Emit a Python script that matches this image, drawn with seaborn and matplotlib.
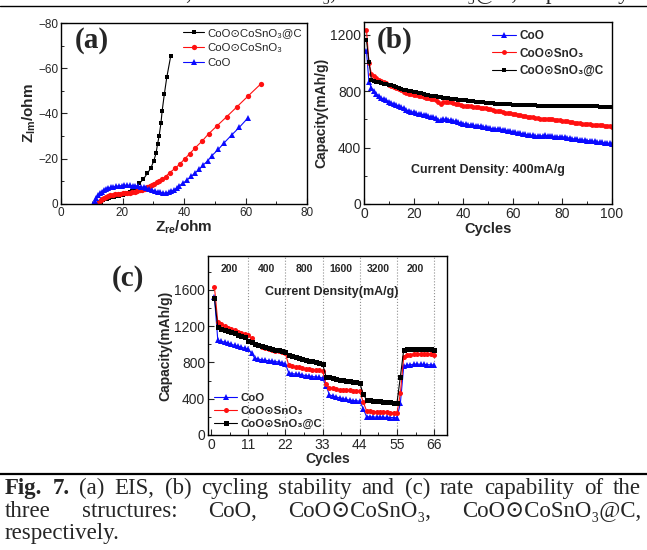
import matplotlib
matplotlib.use("Agg")
import matplotlib.pyplot as plt
from matplotlib.lines import Line2D
from matplotlib.ticker import MultipleLocator
import seaborn as sns

# ---- (a) EIS data (Z_re, Z_im) ----
ZRE_C = [12.0, 12.4, 12.9, 13.5, 14.1, 14.8, 15.5, 16.3, 17.1, 17.9, 18.7, 19.5, 20.3, 21.1,
         21.9, 22.5, 23.0, 24.1, 25.5, 26.8, 28.1, 29.2, 30.2, 30.9, 31.4, 31.9, 32.5, 32.9,
         33.6, 34.4, 35.7]
ZIM_C = [0, -0.6, -1.1, -1.6, -2.0, -2.4, -2.7, -3.0, -3.2, -3.4, -3.6, -3.8, -4.0, -4.3,
         -4.7, -5.2, -5.7, -7.2, -9.1, -11.0, -13.6, -15.8, -19.2, -22.4, -26.5, -30.0, -35.7,
         -41.2, -48.5, -56.0, -65.5]
ZRE_S = [12.0, 12.4, 12.9, 13.4, 14.0, 14.6, 15.3, 16.0, 16.8, 17.6, 18.4, 19.2, 20.0, 20.8,
         21.6, 22.4, 23.2, 24.0, 24.8, 25.6, 26.4, 27.2, 28.0, 28.8, 29.6, 30.4, 31.2, 32.0,
         33.0, 34.0, 35.4, 37.1, 38.6, 40.2, 41.9, 43.7, 45.8, 48.0, 50.7, 53.9, 57.1, 60.9, 65.0]
ZIM_S = [0, -0.9, -1.6, -2.2, -2.7, -3.1, -3.5, -3.8, -4.1, -4.3, -4.5, -4.6, -4.7, -4.8,
         -4.9, -5.0, -5.2, -5.4, -5.7, -6.0, -6.4, -6.8, -7.3, -7.8, -8.4, -9.0, -9.6, -10.2,
         -11.0, -12.1, -13.9, -15.8, -17.6, -19.9, -22.3, -24.9, -27.7, -31.0, -34.5, -38.6,
         -42.8, -47.8, -53.1]
ZRE_O = [10.5, 11.0, 11.5, 12.0, 12.6, 13.2, 13.9, 14.6, 15.4, 16.2, 17.0, 17.9, 18.8, 19.7,
         20.6, 21.5, 22.4, 23.3, 24.2, 25.1, 26.0, 26.9, 27.8, 28.7, 29.6, 30.5, 31.4, 32.3,
         33.2, 34.1, 35.0, 35.9, 36.8, 37.7, 38.5, 39.8, 41.1, 42.3, 43.6, 45.0, 46.3, 47.8,
         49.1, 51.2, 53.1, 55.5, 58.0, 60.9]
ZIM_O = [0, -1.5, -2.8, -3.8, -4.7, -5.4, -6.0, -6.5, -6.9, -7.3, -7.6, -7.8, -8.0, -8.1,
         -8.2, -8.3, -8.2, -8.1, -8.0, -7.8, -7.6, -7.3, -7.0, -6.6, -6.2, -5.8, -5.4, -5.1,
         -4.9, -4.8, -5.1, -5.6, -6.3, -7.1, -8.1, -9.3, -10.7, -12.2, -13.7, -15.3, -17.3,
         -19.2, -21.4, -24.2, -27.1, -30.5, -33.9, -38.2]

# ---- (b) cycling at 400 mA/g, cycles 1..100 ----
CYC_B = list(range(1, 101))
CAP_B_COO = [1087, 862, 823, 800, 780, 765, 752, 742, 734, 726,
             718, 710, 703, 695, 688, 678, 668, 660, 655, 650,
             645, 640, 636, 632, 628, 624, 620, 616, 612, 598,
             592, 600, 602, 598, 594, 590, 586, 580, 574, 570,
             566, 562, 560, 557, 556, 556, 552, 548, 544, 540,
             536, 534, 533, 531, 530, 528, 524, 520, 516, 513,
             510, 506, 502, 497, 493, 490, 488, 486, 484, 482,
             482, 484, 486, 485, 482, 480, 478, 477, 476, 475,
             474, 470, 466, 463, 460, 458, 456, 454, 452, 450,
             448, 446, 443, 440, 438, 436, 434, 432, 429, 426]
CAP_B_SNO = [1236, 1000, 924, 905, 892, 882, 873, 865, 855, 846,
             838, 830, 822, 814, 806, 795, 786, 780, 777, 774,
             770, 766, 762, 758, 754, 750, 746, 742, 738, 720,
             706, 722, 726, 724, 720, 716, 712, 708, 704, 698,
             696, 694, 692, 690, 688, 686, 683, 680, 677, 674,
             670, 666, 662, 659, 656, 652, 648, 645, 642, 638,
             635, 632, 630, 627, 624, 620, 617, 614, 611, 608,
             606, 604, 603, 604, 605, 602, 598, 595, 592, 590,
             588, 585, 582, 579, 576, 574, 572, 570, 568, 567,
             565, 563, 561, 559, 558, 557, 556, 554, 552, 549]
CAP_B_C = [1160, 1010, 880, 872, 866, 862, 858, 854, 850, 846,
           840, 834, 828, 822, 816, 810, 806, 802, 799, 796,
           792, 788, 784, 780, 776, 772, 768, 765, 762, 759,
           756, 753, 750, 748, 746, 744, 742, 740, 738, 736,
           734, 732, 730, 728, 726, 724, 722, 720, 718, 716,
           714, 713, 712, 711, 710, 709, 708, 707, 706, 705,
           704, 703, 702, 702, 701, 700, 700, 699, 699, 698,
           698, 697, 697, 697, 696, 696, 696, 695, 695, 695,
           695, 694, 694, 694, 694, 693, 693, 693, 693, 692,
           692, 692, 692, 692, 691, 691, 691, 691, 691, 691]

# ---- (c) rate capability, cycles 1..66 ----
CYC_C = list(range(1, 67))
CAP_C_COO = [1524, 1045, 1035, 1025, 1015, 1000, 990, 978, 968, 958, 945,
             900, 845, 838, 830, 825, 820, 815, 810, 805, 798, 785,
             685, 678, 672, 668, 662, 656, 650, 645, 640, 635, 630,
             545, 445, 430, 420, 410, 400, 392, 385, 380, 378, 372,
             292, 202, 200, 198, 197, 196, 195, 194, 193, 192, 190,
             350, 756, 770, 775, 780, 782, 780, 778, 776, 774, 772]
CAP_C_SNO = [1635, 1245, 1225, 1205, 1185, 1170, 1155, 1140, 1128, 1115, 1105,
             1065, 1005, 990, 975, 962, 950, 940, 932, 925, 918, 900,
             768, 760, 752, 745, 738, 732, 727, 722, 718, 714, 710,
             560, 522, 515, 508, 502, 498, 495, 492, 490, 490, 480,
             365, 268, 262, 258, 256, 254, 252, 250, 248, 246, 244,
             458, 862, 880, 888, 892, 895, 896, 895, 893, 890, 886]
CAP_C_C = [1510, 1188, 1170, 1160, 1148, 1135, 1120, 1108, 1095, 1080, 1035,
           1025, 1005, 990, 978, 968, 958, 950, 942, 935, 928, 920,
           885, 875, 862, 850, 840, 830, 820, 812, 805, 798, 785,
           645, 636, 628, 620, 612, 605, 598, 592, 586, 580, 575,
           450, 390, 385, 380, 376, 372, 368, 364, 360, 356, 352,
           642, 940, 945, 947, 948, 950, 952, 950, 948, 944, 938]
RATE_LABELS = ["200", "400", "800", "1600", "3200", "200"]
SEG = 11

W, H = 647, 550
sns.set_style("ticks")
plt.rcParams["font.family"] = ["Liberation Sans", "DejaVu Sans"]
plt.rcParams["mathtext.fontset"] = "custom"
plt.rcParams["mathtext.rm"] = "Liberation Sans"
plt.rcParams["mathtext.bf"] = "Liberation Sans:bold"
plt.rcParams["xtick.direction"] = "in"
plt.rcParams["ytick.direction"] = "in"

fig = plt.figure(figsize=(W / 100, H / 100), dpi=100)


def box(l, t, r, b):
    return [l / W, 1 - b / H, (r - l) / W, (b - t) / H]


def fx(px):
    return px / W


def fy(py):
    return 1 - py / H


BLUE, RED, BLACK = "#0a0aff", "#ff1010", "#000000"
sub3 = "\u2083"
dot = "\u2299"


def style_ticks(ax, size):
    ax.tick_params(which="major", length=4, width=0.8, labelsize=size, pad=2)
    ax.tick_params(which="minor", length=2, width=0.7)
    ax.tick_params(top=False, right=False, which="both")
    for s in ax.spines.values():
        s.set_linewidth(1.0)
        s.set_color("black")


def series(ax, x, y, color, marker, ms, label):
    sns.lineplot(x=x, y=y, ax=ax, color=color, marker=marker, markersize=ms,
                 markeredgewidth=0, linewidth=0.8, sort=False, estimator=None,
                 label=label)


# ---------------- (a) ----------------
axa = fig.add_axes(box(61, 23, 307, 204))
series(axa, ZRE_C, ZIM_C, BLACK, "s", 3.5, "CoO" + dot + "CoSnO" + sub3 + "@C")
series(axa, ZRE_S, ZIM_S, RED, "o", 3.8, "CoO" + dot + "CoSnO" + sub3)
series(axa, ZRE_O, ZIM_O, BLUE, "^", 4.5, "CoO")
axa.set_xlim(0, 80)
axa.set_ylim(0, -80)
axa.xaxis.set_major_locator(MultipleLocator(20))
axa.xaxis.set_minor_locator(MultipleLocator(10))
axa.yaxis.set_major_locator(MultipleLocator(20))
axa.yaxis.set_minor_locator(MultipleLocator(10))
style_ticks(axa, 8.5)
axa.set_xlabel(r"$\mathbf{Z_{re}/ohm}$", fontsize=11, labelpad=0)
axa.set_ylabel(r"$\mathbf{Z_{Im}/ohm}$", fontsize=11, labelpad=0)
axa.legend(loc="upper right", frameon=False, fontsize=8.2, handlelength=1.8,
           handletextpad=0.3, labelspacing=0.45, borderaxespad=0.05)

# ---------------- (b) ----------------
axb = fig.add_axes(box(364, 22, 612, 204))
series(axb, CYC_B, CAP_B_COO, BLUE, "^", 4, "CoO")
series(axb, CYC_B, CAP_B_SNO, RED, "o", 3.5, "CoO" + dot + "SnO" + sub3)
series(axb, CYC_B, CAP_B_C, BLACK, "s", 3.2, "CoO" + dot + "SnO" + sub3 + "@C")
axb.set_xlim(0, 100)
axb.set_ylim(0, 1290)
axb.xaxis.set_major_locator(MultipleLocator(20))
axb.xaxis.set_minor_locator(MultipleLocator(10))
axb.yaxis.set_major_locator(MultipleLocator(400))
axb.yaxis.set_minor_locator(MultipleLocator(200))
style_ticks(axb, 10)
axb.set_xlabel("Cycles", fontsize=10.5, fontweight="bold", labelpad=1)
axb.set_ylabel("Capacity(mAh/g)", fontsize=10, fontweight="bold", labelpad=1)
axb.text(50, 240, "Current Density: 400mA/g", fontsize=9, fontweight="bold",
         ha="center", va="center")
axb.legend(loc="upper right", frameon=False, handlelength=2.0,
           handletextpad=0.3, labelspacing=0.45, borderaxespad=0.3,
           prop={"size": 8.5, "weight": "bold"})

# ---------------- (c) ----------------
axc = fig.add_axes(box(208, 256, 447, 435))
series(axc, CYC_C, CAP_C_COO, BLUE, "^", 4, "CoO")
series(axc, CYC_C, CAP_C_SNO, RED, "o", 3.6, "CoO" + dot + "SnO" + sub3)
series(axc, CYC_C, CAP_C_C, BLACK, "s", 3.6, "CoO" + dot + "SnO" + sub3 + "@C")
axc.set_xlim(-0.9, 69.8)
axc.set_ylim(0, 1975)
for i in range(1, len(RATE_LABELS) + 1):
    axc.axvline(i * SEG, color="#909090", ls=":", lw=0.8, zorder=0)
for i, lab in enumerate(RATE_LABELS):
    axc.text(i * SEG + SEG / 2, 1830, lab, fontsize=7.5, fontweight="bold",
             ha="center", va="center")
axc.text(35.7, 1580, "Current Density(mA/g)", fontsize=9, fontweight="bold",
         ha="center", va="center")
axc.xaxis.set_major_locator(MultipleLocator(SEG))
axc.xaxis.set_minor_locator(MultipleLocator(SEG / 2))
axc.yaxis.set_major_locator(MultipleLocator(400))
axc.yaxis.set_minor_locator(MultipleLocator(200))
style_ticks(axc, 10)
axc.set_xlabel("Cycles", fontsize=10, fontweight="bold", labelpad=0)
axc.set_ylabel("Capacity(mAh/g)", fontsize=10, fontweight="bold", labelpad=1)
axc.legend(loc="lower left", frameon=False, handlelength=2.0, handletextpad=0.3,
           labelspacing=0.25, borderaxespad=0.15, prop={"size": 8.2, "weight": "bold"})

# panel letters
serif = ["Liberation Serif", "DejaVu Serif"]
for txt, (px, py) in [("(a)", (92, 40)), ("(b)", (395, 40)), ("(c)", (128, 278))]:
    fig.text(fx(px), fy(py), txt, fontsize=21, fontweight="bold", family=serif,
             ha="center", va="center")

# ---------------- caption ----------------
renderer = fig.canvas.get_renderer()
CAP_FS = 16.5


def justify(words, base, x0, x1, fs=CAP_FS):
    arts = []
    for w, wt in words:
        arts.append(fig.text(0, fy(base), w, fontsize=fs, family=serif,
                             fontweight=wt, va="baseline", ha="left"))
    widths = [a.get_window_extent(renderer).width for a in arts]
    gap = max((x1 - x0 - sum(widths)) / max(len(arts) - 1, 1), 2)
    x = x0
    for a, w in zip(arts, widths):
        a.set_x(fx(x))
        x += w + gap


fig.add_artist(Line2D([0, 1], [fy(474), fy(474)], transform=fig.transFigure,
                      color="black", lw=1.6))
fig.add_artist(Line2D([0, 1], [fy(6), fy(6)], transform=fig.transFigure,
                      color="black", lw=1.0))

line1 = [("Fig.", "bold"), ("7.", "bold"), ("(a)", "normal"), ("EIS,", "normal"),
         ("(b)", "normal"), ("cycling", "normal"), ("stability", "normal"),
         ("and", "normal"), ("(c)", "normal"), ("rate", "normal"),
         ("capability", "normal"), ("of", "normal"), ("the", "normal")]
line2 = [("three", "normal"), ("structures:", "normal"), ("CoO,", "normal"),
         ("CoO" + dot + "CoSnO" + sub3 + ",", "normal"),
         ("CoO" + dot + "CoSnO" + sub3 + "@C,", "normal")]
justify(line1, 494, 5, 641)
justify(line2, 517, 5, 641)
fig.text(fx(5), fy(539), "respectively.", fontsize=CAP_FS, family=serif,
         va="baseline", ha="left")

# clipped text of the previous caption at the very top
top = [("structures:", "normal"), ("CoO,", "normal"),
       ("CoO" + dot + "CoSnO" + sub3 + ",", "normal"),
       ("CoO" + dot + "CoSnO" + sub3 + "@C,", "normal"), ("respectively.", "normal")]
justify(top, -1, 45, 628)

fig.savefig("out.png", dpi=100)
